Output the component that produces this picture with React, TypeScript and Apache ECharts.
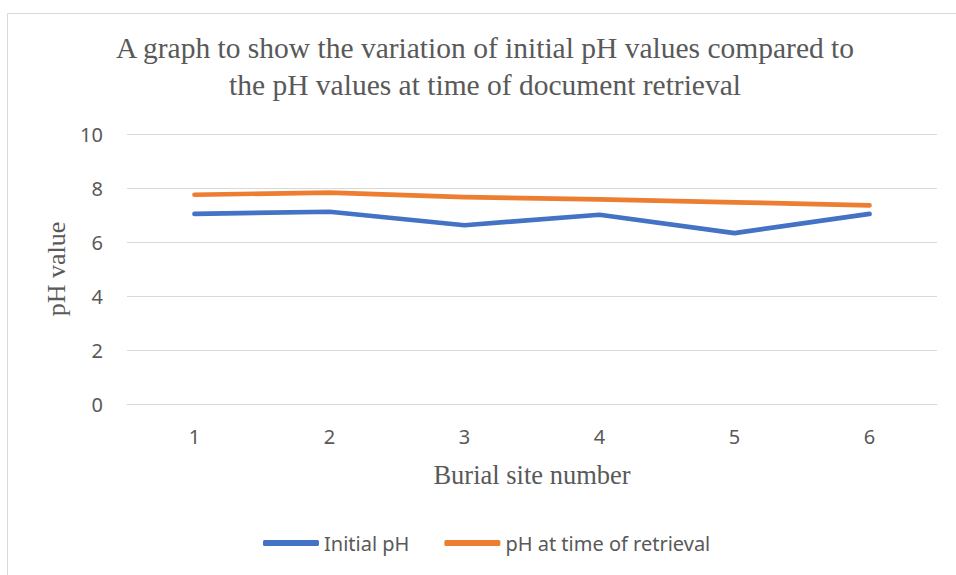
import React, { useEffect, useRef } from "react";
import * as echarts from "echarts";

const categories = ["1", "2", "3", "4", "5", "6"];
const initialPH = [7.04, 7.12, 6.62, 7.01, 6.33, 7.04];
const retrievalPH = [7.75, 7.83, 7.66, 7.58, 7.47, 7.36];
const seriesNames = ["Initial pH", "pH at time of retrieval"];
const titleText = "A graph to show the variation of initial pH values compared to\nthe pH values at time of document retrieval";

export default function App() {
  const ref = useRef<HTMLDivElement>(null);
  useEffect(() => {
    const chart = echarts.init(ref.current!, null, { renderer: "svg" });
    const sans = "'Noto Sans', 'Open Sans', sans-serif";
    const serif = "'Liberation Serif', 'DejaVu Serif', serif";
    chart.setOption({
      animation: false,
      backgroundColor: "#ffffff",
      title: {
        text: titleText,
        left: 480,
        top: 24,
        textAlign: "center",
        textStyle: {
          fontFamily: serif,
          fontSize: 29.5,
          fontWeight: "normal",
          color: "#595959",
          lineHeight: 37,
        },
      },
      graphic: [
        {
          type: "rect",
          shape: { x: 7.5, y: 13.5, width: 1000, height: 700 },
          style: { fill: "none", stroke: "#d9d9d9", lineWidth: 1 },
          silent: true,
        },
      ],
      legend: {
        top: 528,
        left: 258,
        itemWidth: 56,
        itemHeight: 6,
        itemGap: 35,
        icon: "roundRect",
        textStyle: { fontFamily: sans, fontSize: 20, color: "#595959" },
        data: seriesNames,
      },
      grid: { left: 127, right: 19, top: 134, bottom: 171 },
      xAxis: {
        type: "category",
        data: categories,
        boundaryGap: true,
        name: "Burial site number",
        nameLocation: "middle",
        nameGap: 57,
        nameTextStyle: { fontFamily: serif, fontSize: 26.5, color: "#595959" },
        axisLine: { show: true, lineStyle: { color: "#d9d9d9", width: 1 } },
        axisTick: { show: false },
        axisLabel: { margin: 22, fontFamily: sans, fontSize: 20, color: "#595959" },
      },
      yAxis: {
        type: "value",
        min: 0,
        max: 10,
        interval: 2,
        name: "pH value",
        nameLocation: "middle",
        nameGap: 52,
        nameTextStyle: { fontFamily: serif, fontSize: 26, color: "#595959" },
        axisLine: { show: false },
        axisTick: { show: false },
        axisLabel: { margin: 24, fontFamily: sans, fontSize: 20, color: "#595959" },
        splitLine: { lineStyle: { color: "#d9d9d9", width: 1 } },
      },
      series: [
        {
          name: seriesNames[0],
          type: "line",
          data: initialPH,
          showSymbol: false,
          symbol: "none",
          color: "#4472C4",
          lineStyle: { width: 4.7, color: "#4472C4", cap: "round", join: "round" },
        },
        {
          name: seriesNames[1],
          type: "line",
          data: retrievalPH,
          showSymbol: false,
          symbol: "none",
          color: "#ED7D31",
          lineStyle: { width: 4.7, color: "#ED7D31", cap: "round", join: "round" },
        },
      ],
    });
    return () => chart.dispose();
  }, []);
  return (
    <div
      ref={ref}
      style={{ position: "fixed", left: 0, top: 0, width: 956, height: 575 }}
    />
  );
}
